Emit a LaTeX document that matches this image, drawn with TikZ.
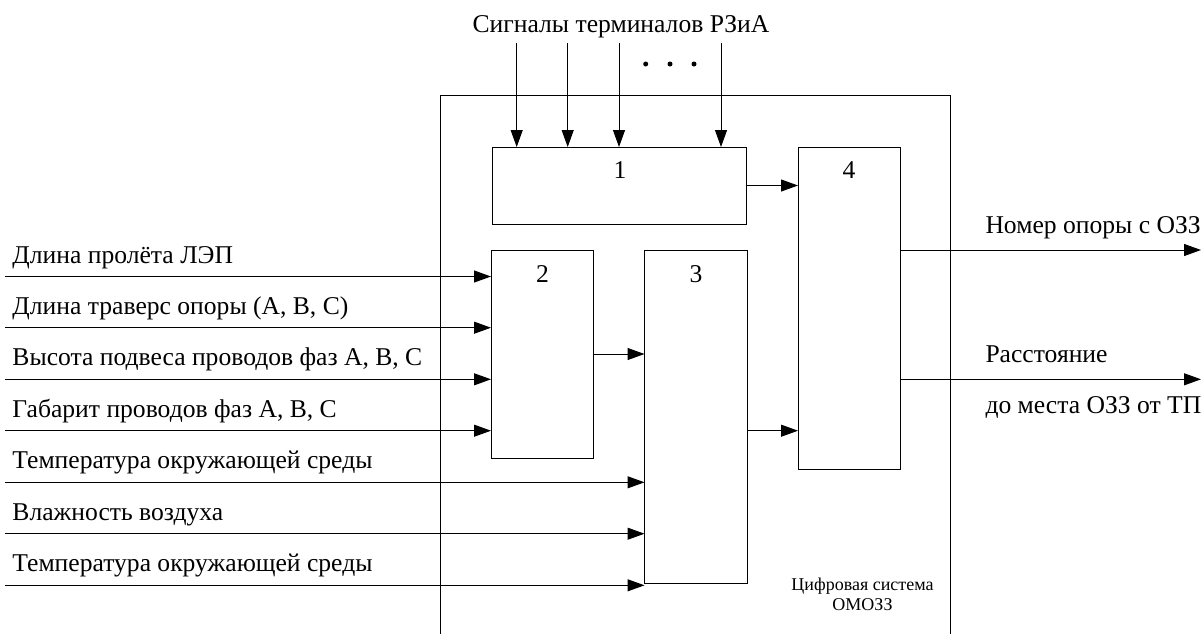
\documentclass[tikz,border=0pt]{standalone}
\usepackage{fontspec}
\setmainfont{Liberation Serif}
\usetikzlibrary{arrows.meta}
\begin{document}
\begin{tikzpicture}[x=1pt,y=-1pt,
  line width=1pt,
  blk/.style={draw, inner sep=0pt, outer sep=0pt, line width=1pt},
  arr/.style={-{Triangle[length=17pt,width=12pt]}},
  txt/.style={inner sep=0pt, anchor=base west, font=\fontsize{25.6}{30}\selectfont},
  num/.style={inner sep=0pt, anchor=base, font=\fontsize{25.6}{30}\selectfont},
  small/.style={inner sep=0pt, anchor=base, align=center, font=\fontsize{18}{19.3}\selectfont}]
\useasboundingbox (0,0) rectangle (1201,633);

% outer frame (open at bottom)
\draw (440.5,640) -- (440.5,95) -- (950,95) -- (950,640);

% blocks
\node[blk, minimum width=254pt, minimum height=77pt] (b1) at (619,185.5) {};
\node[blk, minimum width=102pt, minimum height=322pt] (b4) at (849,308) {};
\node[blk, minimum width=102.5pt, minimum height=208pt] (b2) at (542.25,354) {};
\node[blk, minimum width=102.5pt, minimum height=333pt] (b3) at (695.75,416.5) {};

\node[num] (n1) at (620,178) {1};
\node[num] (n4) at (849,178) {4};
\node[num] (n2) at (542.5,282) {2};
\node[num] (n3) at (696,282) {3};

% top signals
\node[num] (title) at (621,32) {Сигналы терминалов РЗиА};
\coordinate (t1) at (516.7,43);
\coordinate (t2) at (567.7,43);
\coordinate (t3) at (619,43);
\coordinate (t4) at (721,43);
\foreach \t in {t1,t2,t3,t4} \draw[arr] (\t) -- (\t |- b1.north);
\foreach \x in {645.7,670,694} \fill (\x,64) circle (2.5pt);

% internal connections
\draw[arr] (b1.east) -- (b1.east -| b4.west);
\draw[arr] (b2.east) -- (b2.east -| b3.west);
\coordinate (c34) at (747,430.7);
\draw[arr] (b3.east |- c34) -- (b4.west |- c34);

% inputs
\coordinate (i1) at (5,276.5);
\coordinate (i2) at (5,327.7);
\coordinate (i3) at (5,379.3);
\coordinate (i4) at (5,430.7);
\coordinate (i5) at (5,482.3);
\coordinate (i6) at (5,533.7);
\coordinate (i7) at (5,585.3);
\foreach \i in {i1,i2,i3,i4} \draw[arr] (\i) -- (\i -| b2.west);
\foreach \i in {i5,i6,i7} \draw[arr] (\i) -- (\i -| b3.west);

\node[txt] (l1) at (12,263) {Длина пролёта ЛЭП};
\node[txt] (l2) at (12,314.2) {Длина траверс опоры (А, В, С)};
\node[txt] (l3) at (12,365.8) {Высота подвеса проводов фаз А, В, С};
\node[txt] (l4) at (12,417.2) {Габарит проводов фаз А, В, С};
\node[txt] (l5) at (12,468.8) {Температура окружающей среды};
\node[txt] (l6) at (12,520.2) {Влажность воздуха};
\node[txt] (l7) at (12,571.8) {Температура окружающей среды};

% outputs
\coordinate (o1) at (1201,250);
\coordinate (o2) at (1201,379.3);
\draw[arr] (b4.east |- o1) -- (o1);
\draw[arr] (b4.east |- o2) -- (o2);
\node[txt] (r1) at (985,233) {Номер опоры с ОЗЗ};
\node[txt] (r2) at (985,362) {Расстояние};
\node[txt] (r3) at (985,413) {до места ОЗЗ от ТП};

\node[small] (sys) at (862.5,610) {Цифровая система\\ОМОЗЗ};
\end{tikzpicture}
\end{document}
